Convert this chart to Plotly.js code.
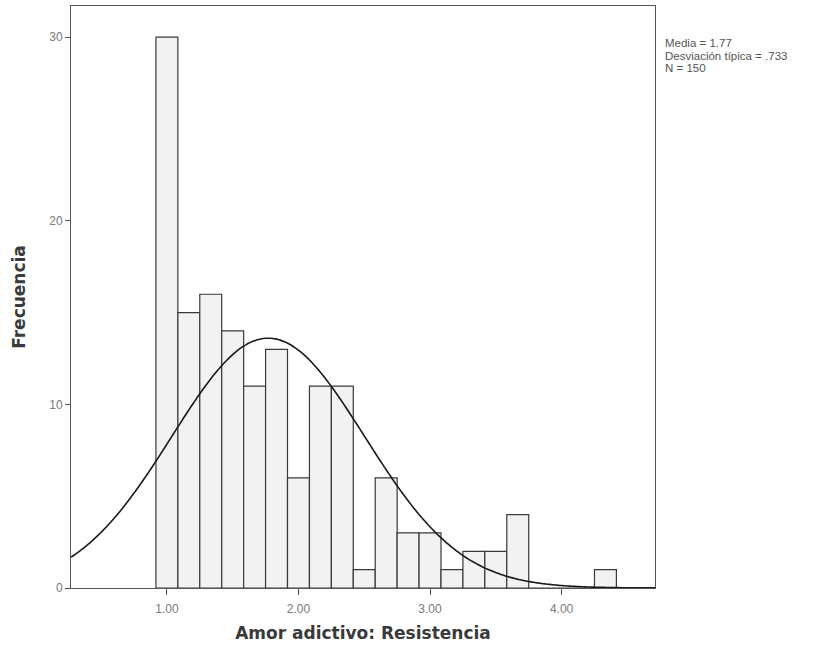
<!DOCTYPE html>
<html>
<head>
<meta charset="utf-8">
<script src="https://cdn.plot.ly/plotly-3.0.1.min.js"></script>
<style>html,body{margin:0;padding:0;background:#fff;}#chart{width:828px;height:654px;}</style>
</head>
<body>
<div id="chart"></div>
<script>
// Bin centres (width 1/6) and frequencies
const binCenters = [1.0, 1.1667, 1.3333, 1.5, 1.6667, 1.8333, 2.0, 2.1667, 2.3333, 2.5, 2.6667, 2.8333, 3.0, 3.1667, 3.3333, 3.5, 3.6667, 3.8333, 4.0, 4.1667, 4.3333];
const frequencies = [30, 15, 16, 14, 11, 13, 6, 11, 11, 1, 6, 3, 3, 1, 2, 2, 4, 0, 0, 0, 1];
const binWidth = 1/6;
// Summary statistics printed beside the chart
const mean = 1.77;
const stdDev = 0.733;
const nCases = 150;
const statLabels = ["Media = 1.77", "Desviación típica = .733", "N = 150"];
const xTickVals = [1, 2, 3, 4];
const yTickVals = [0, 10, 20, 30];
const xRange = [0.271, 4.71];
const yRange = [0, 31.7];

// Fitted normal curve (SPSS "mostrar curva normal"), from the stated mean, sd and N
const curveX = [], curveY = [];
const steps = 240;
for (let i = 0; i <= steps; i++) {
  const x = xRange[0] + (xRange[1] - xRange[0]) * i / steps;
  const z = (x - mean) / stdDev;
  curveX.push(x);
  curveY.push(nCases * binWidth / (stdDev * Math.sqrt(2 * Math.PI)) * Math.exp(-0.5 * z * z));
}

const traces = [
  {
    type: 'bar', x: binCenters, y: frequencies, width: binWidth,
    marker: {color: '#f2f2f2', line: {color: '#3a3a3a', width: 1.2}},
    hoverinfo: 'x+y', showlegend: false
  },
  {
    type: 'scatter', mode: 'lines', x: curveX, y: curveY,
    line: {color: '#1a1a1a', width: 1.6, shape: 'spline'},
    hoverinfo: 'skip', showlegend: false
  }
];

const tickFont = {family: 'Liberation Sans, Arial, sans-serif', size: 12, color: '#7a7a7a'};
const titleFont = {family: 'DejaVu Sans, sans-serif', size: 17, color: '#3a3a3a', weight: 'bold'};

const annotations = statLabels.map((t, i) => ({
  text: t, xref: 'paper', yref: 'paper',
  x: 1.013, y: (588 - (43 + 12.5 * i)) / 582,
  xanchor: 'left', yanchor: 'middle', showarrow: false, align: 'left',
  font: {family: 'Liberation Sans, Arial, sans-serif', size: 11.5, color: '#555'}
}));

const layout = {
  width: 828, height: 654,
  margin: {l: 71, r: 173, t: 6, b: 66},
  paper_bgcolor: '#fff', plot_bgcolor: '#fff',
  bargap: 0,
  xaxis: {
    range: xRange, tickvals: xTickVals, tickformat: '.2f',
    ticks: 'outside', ticklen: 6, tickcolor: '#555', tickwidth: 1,
    ticklabelstandoff: 4,
    showline: true, linecolor: '#555', linewidth: 1, mirror: true,
    showgrid: false, zeroline: false, tickfont: tickFont,
    title: {text: 'Amor adictivo: Resistencia', font: titleFont, standoff: 11}
  },
  yaxis: {
    range: yRange, tickvals: yTickVals,
    ticks: 'outside', ticklen: 5, tickcolor: '#555', tickwidth: 1,
    showline: true, linecolor: '#555', linewidth: 1, mirror: true,
    showgrid: false, zeroline: false, tickfont: tickFont,
    title: {text: 'Frecuencia', font: titleFont, standoff: 19}
  },
  annotations: annotations
};

Plotly.newPlot('chart', traces, layout, {displayModeBar: false, staticPlot: true});
</script>
</body>
</html>
